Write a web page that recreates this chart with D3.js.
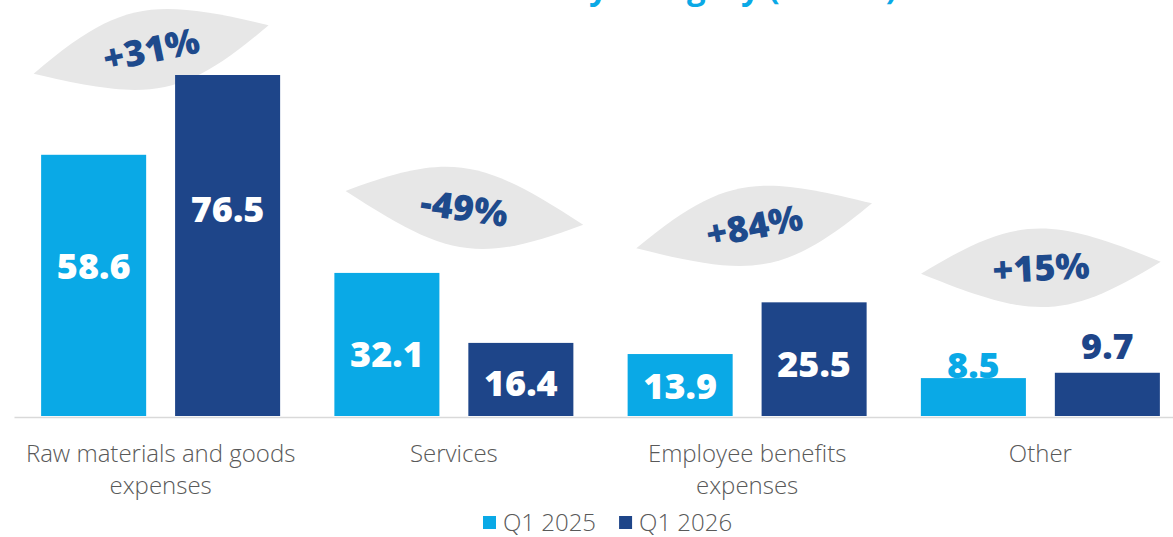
<!DOCTYPE html>
<html>
<head>
<meta charset="utf-8">
<script src="https://cdn.jsdelivr.net/npm/d3@7"></script>
<style>
  html, body { margin: 0; padding: 0; background: #fff; overflow: hidden; }
  svg { display: block; font-family: "Open Sans", "Noto Sans", sans-serif; }
</style>
</head>
<body>
<svg id="chart" width="1173" height="537"></svg>
<script>
// ---- data ----
const categories = [
  "Raw materials and goods\nexpenses",
  "Services",
  "Employee benefits\nexpenses",
  "Other"
];
const seriesNames = ["Q1 2025", "Q1 2026"];
const q1_2025 = [58.6, 32.1, 13.9, 8.5];
const q1_2026 = [76.5, 16.4, 25.5, 9.7];
const changeLabels = ["+31%", "-49%", "+84%", "+15%"];
const titleText = "Costs by category (EUR m)";

// ---- layout ----
const leafLayout = [
  { dx: -9.5, lift: 25.5, angle: -11.7 },
  { dx: 10.5, lift: 65,   angle: 8.1 },
  { dx: 7,    lift: 76.5, angle: -10.8 },
  { dx: 0.5,  lift: 105,  angle: -2.9 }
];
// distance from bar top to label centre (negative = above the bar)
const labelDrop = [[111, 134], [81, 40], [32, 62], [-13, -27]];

const baseY = 416;
const svg = d3.select("#chart");

const y = d3.scaleLinear().domain([0, 80]).range([baseY, baseY - 80 * 341 / 76.5]);
const x0 = d3.scaleBand().domain(categories).range([14, 1187])
  .paddingInner(0.185).paddingOuter(0.0925);
const x1 = d3.scaleBand().domain(seriesNames).range([0, x0.bandwidth()])
  .paddingInner(0.216);
const color = d3.scaleOrdinal().domain(seriesNames).range(["#0aa9e6", "#1e4589"]);

const rows = categories.map((c, i) => ({
  category: c,
  index: i,
  values: [
    { series: seriesNames[0], value: q1_2025[i] },
    { series: seriesNames[1], value: q1_2026[i] }
  ]
}));

// ---- title (sits at the very top edge) ----
svg.append("text")
  .attr("x", 897).attr("y", -1)
  .attr("text-anchor", "end")
  .attr("font-size", 33).attr("font-weight", 700)
  .attr("fill", "#0aa9e6")
  .text(titleText);

// ---- leaf-shaped change badges (behind the bars) ----
const a = 120;
const leafPath =
  `M${-a},0 C${-a + 100},${-55} ${a - 108},${-50} ${a},0 ` +
  `C${a - 100},${55} ${-a + 108},${50} ${-a},0 Z`;

const badges = svg.append("g").selectAll("g.badge")
  .data(rows).join("g")
  .attr("class", "badge")
  .attr("transform", d => {
    const L = leafLayout[d.index];
    const cx = x0(d.category) + x0.bandwidth() / 2 + L.dx;
    const top = y(d3.max(d.values, v => v.value));
    return `translate(${cx},${top - L.lift}) rotate(${L.angle})`;
  });
badges.append("path").attr("d", leafPath).attr("fill", "#e7e7e7");
badges.append("text")
  .attr("text-anchor", "middle")
  .attr("y", 13)
  .attr("font-size", 36).attr("font-weight", 800)
  .attr("fill", "#1e4a8c")
  .text(d => changeLabels[d.index]);

// ---- bars ----
const groups = svg.append("g").selectAll("g.group")
  .data(rows).join("g")
  .attr("class", "group")
  .attr("transform", d => `translate(${x0(d.category)},0)`);

groups.selectAll("rect")
  .data(d => d.values).join("rect")
  .attr("x", d => x1(d.series))
  .attr("y", d => y(d.value))
  .attr("width", x1.bandwidth())
  .attr("height", d => y(0) - y(d.value))
  .attr("fill", d => color(d.series));

// ---- value labels ----
groups.selectAll("text.val")
  .data(d => d.values.map((v, j) => ({ ...v, gi: d.index, j })))
  .join("text")
  .attr("class", "val")
  .attr("text-anchor", "middle")
  .attr("x", d => x1(d.series) + x1.bandwidth() / 2)
  .attr("y", d => y(d.value) + labelDrop[d.gi][d.j] + 12.9)
  .attr("font-size", 36).attr("font-weight", 800)
  .attr("fill", d => labelDrop[d.gi][d.j] > 0 ? "#ffffff" : color(d.series))
  .text(d => d.value.toFixed(1));

// ---- category axis ----
const axis = svg.append("g")
  .attr("transform", `translate(0,${baseY + 1})`)
  .call(d3.axisBottom(x0).tickSize(0).tickSizeOuter(0));
axis.select(".domain").attr("stroke", "#d9d9d9").attr("stroke-width", 1.6);
axis.selectAll(".tick text").each(function (d) {
  const t = d3.select(this);
  t.text(null)
    .attr("y", 45).attr("dy", null)
    .attr("font-family", "\"Open Sans\", \"Noto Sans\", sans-serif")
    .attr("font-size", 24).attr("font-weight", 300)
    .attr("fill", "#595959");
  d.split("\n").forEach((line, k) => {
    t.append("tspan").attr("x", 0).attr("dy", k === 0 ? 0 : 32).text(line);
  });
});

// ---- legend ----
const legend = svg.append("g").attr("transform", "translate(483,0)");
let lx = 0;
seriesNames.forEach(name => {
  legend.append("rect")
    .attr("x", lx).attr("y", 516)
    .attr("width", 13).attr("height", 13)
    .attr("fill", color(name));
  const t = legend.append("text")
    .attr("x", lx + 20).attr("y", 531)
    .attr("font-size", 24).attr("font-weight", 300)
    .attr("fill", "#595959")
    .text(name);
  lx += 20 + t.node().getComputedTextLength() + 23;
});
</script>
</body>
</html>
